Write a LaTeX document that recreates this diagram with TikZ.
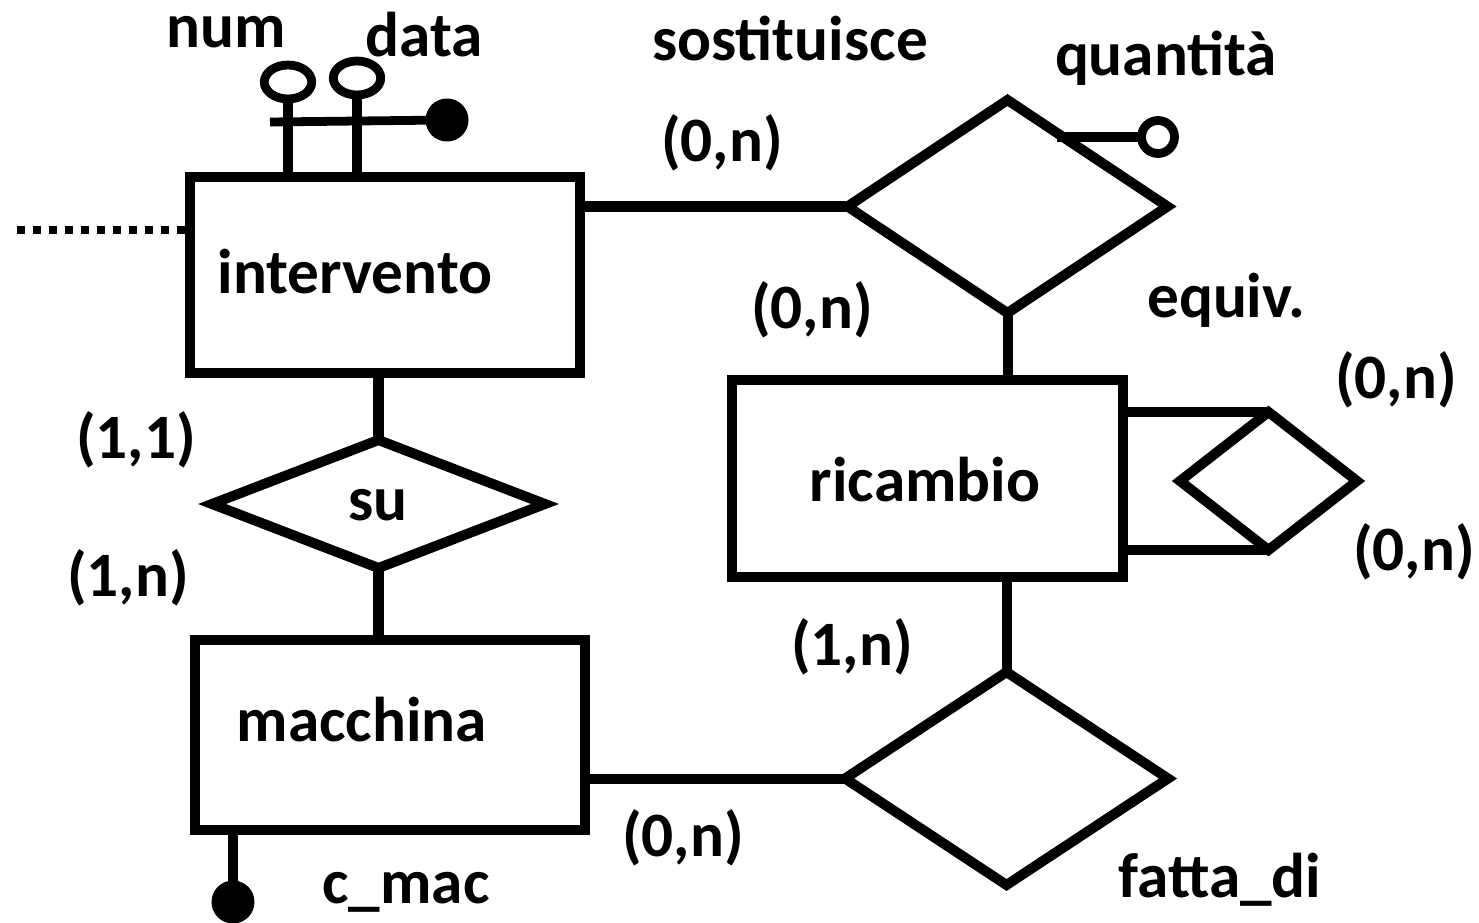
\documentclass[tikz,border=0pt]{standalone}
\usepackage{fontspec}
\setmainfont{Carlito}
\usetikzlibrary{shapes.geometric}
\begin{document}
\begin{tikzpicture}[x=0.02cm,y=-0.02cm,
  every node/.style={font=\fontsize{36}{40}\selectfont\bfseries,outer sep=0pt},
  ent/.style={draw,line width=5.7pt,rectangle,inner sep=0pt},
  rel/.style={draw,line width=5.7pt,diamond,inner sep=0pt},
  conn/.style={line width=5.7pt},
  lbl/.style={inner sep=0pt,anchor=center},
  fdot/.style={circle,fill=black,inner sep=0pt,minimum size=0.86cm},
  odot/.style={circle,draw,line width=5pt,fill=white,inner sep=0pt,minimum size=0.66cm},
  oell/.style={ellipse,draw,line width=5pt,fill=white,inner sep=0pt},
  dotline/.style={line width=0.16cm,dash pattern=on 0.16cm off 0.16cm}
]
\useasboundingbox (0,0) rectangle (1479,922);

% entities
\node[ent,minimum width=7.8cm,minimum height=3.92cm] (intervento) at (385,275) {};
\node[ent,minimum width=7.82cm,minimum height=3.94cm] (ricambio) at (927.5,478.5) {};
\node[ent,minimum width=7.8cm,minimum height=3.8cm] (macchina) at (390,735) {};

% relationships
\node[rel,minimum width=6.66cm,minimum height=2.56cm] (su) at (378.5,504) {};
\node[rel,minimum width=6.4cm,minimum height=4.26cm] (sost) at (1007.5,206.5) {};
\node[rel,minimum width=3.54cm,minimum height=2.76cm] (equiv) at (1268.5,481) {};
\node[rel,minimum width=6.46cm,minimum height=4.26cm] (fatta) at (1006.5,778.5) {};

% texts inside shapes
\node[lbl] (tint) at (355,272) {intervento};
\node[lbl] (tric) at (925,480) {ricambio};
\node[lbl] (tmac) at (362,720) {macchina};
\node[lbl] (tsu) at (378,505) {su};

% connectors
\draw[conn] (intervento.east |- sost.west) -- (sost.west);
\draw[conn] (su.north |- intervento.south) -- (su.north);
\draw[conn] (su.south) -- (su.south |- macchina.north);
\draw[conn] (sost.south) -- (sost.south |- ricambio.north);
\draw[conn] (fatta.north |- ricambio.south) -- (fatta.north);
\draw[conn] (macchina.east |- fatta.west) -- (fatta.west);
\draw[conn] (ricambio.east |- equiv.north) -- (equiv.north);
\draw[conn] (ricambio.east |- equiv.south) -- (equiv.south);

% dotted line
\coordinate (dotend) at (17,230);
\draw[dotline] (dotend) -- (intervento.west |- dotend);

% identifier attributes of intervento
\coordinate (barstart) at (270,122);
\node[fdot] (datadot) at (447,120) {};
\draw[conn,line width=5pt] (barstart) -- (datadot.center);
\node[oell,minimum width=0.95cm,minimum height=0.68cm] (numell) at (288,82) {};
\node[oell,minimum width=0.95cm,minimum height=0.68cm] (dataell) at (357,78) {};
\draw[conn] (numell.south) -- (numell.south |- intervento.north);
\draw[conn] (dataell.south) -- (dataell.south |- intervento.north);

% quantita attribute
\coordinate (qstart) at (1057,137);
\node[odot] (qdot) at (1158,137) {};
\draw[conn] (qstart) -- (qdot.west);

% c_mac attribute
\node[fdot] (cmacdot) at (233,902) {};
\draw[conn] (cmacdot.center |- macchina.south) -- (cmacdot.center);

% labels
\node[lbl] (lnum) at (226,32) {num};
\node[lbl] (ldata) at (424,35) {data};
\node[lbl] (lsost) at (790,38) {sostituisce};
\node[lbl] (lquant) at (1166,58) {quantità};
\node[lbl] (c1) at (722,143) {(0,n)};
\node[lbl] (c2) at (812,310) {(0,n)};
\node[lbl] (lequiv) at (1226,300) {equiv.};
\node[lbl] (c3) at (1396,380) {(0,n)};
\node[lbl] (c4) at (1414,552) {(0,n)};
\node[lbl] (c5) at (136,440) {(1,1)};
\node[lbl] (c6) at (128,578) {(1,n)};
\node[lbl] (c7) at (852,647) {(1,n)};
\node[lbl] (c8) at (683,838) {(0,n)};
\node[lbl] (lfatta) at (1220,880) {fatta\_di};
\node[lbl] (lcmac) at (406,892) {c\_mac};
\end{tikzpicture}
\end{document}
